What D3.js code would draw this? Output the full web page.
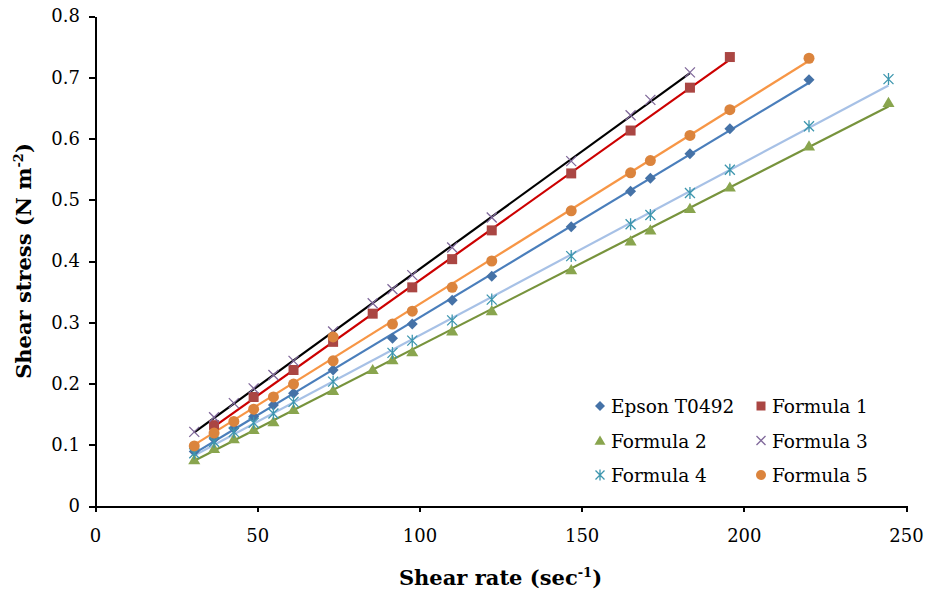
<html>
<head>
<script src="https://d3js.org/d3.v7.min.js"></script>
<style>
  body { margin: 0; background: #fff; }
  .axis path, .axis line { stroke: #000; stroke-width: 2px; shape-rendering: crispEdges; }
  .axis text { fill: #000; }
  .title { font-size: 21px; font-weight: bold; }
  .legend text { font-size: 18.5px; }
</style>
</head>
<body>
<svg id="chart" width="928" height="596"></svg>
<script>
// shear rate (sec-1) and shear stress (N m-2)
const epsonX = [30.6, 36.7, 42.8, 48.9, 55.0, 61.2, 73.4, 91.7, 97.8, 110.1, 122.3, 146.8, 165.1, 171.2, 183.4, 195.7, 220.1];
const epsonY = [0.089, 0.110, 0.127, 0.146, 0.165, 0.184, 0.222, 0.274, 0.297, 0.336, 0.375, 0.456, 0.514, 0.535, 0.575, 0.616, 0.696];

const f1X = [36.7, 48.9, 61.2, 73.4, 85.6, 97.8, 110.1, 122.3, 146.8, 165.1, 183.4, 195.7];
const f1Y = [0.132, 0.178, 0.222, 0.268, 0.314, 0.357, 0.403, 0.450, 0.543, 0.613, 0.683, 0.733];

const f2X = [30.6, 36.7, 42.8, 48.9, 55.0, 61.2, 73.4, 85.6, 91.7, 97.8, 110.1, 122.3, 146.8, 165.1, 171.2, 183.4, 195.7, 220.1, 244.6];
const f2Y = [0.076, 0.094, 0.110, 0.125, 0.138, 0.158, 0.189, 0.223, 0.239, 0.252, 0.286, 0.319, 0.386, 0.433, 0.451, 0.486, 0.521, 0.588, 0.659];

const f3X = [30.6, 36.7, 42.8, 48.9, 55.0, 61.2, 73.4, 85.6, 91.7, 97.8, 110.1, 122.3, 146.8, 165.1, 171.2, 183.4];
const f3Y = [0.121, 0.145, 0.168, 0.192, 0.214, 0.237, 0.285, 0.331, 0.354, 0.377, 0.422, 0.471, 0.563, 0.638, 0.663, 0.708];

const f4X = [30.6, 36.7, 42.8, 48.9, 55.0, 61.2, 73.4, 91.7, 97.8, 110.1, 122.3, 146.8, 165.1, 171.2, 183.4, 195.7, 220.1, 244.6];
const f4Y = [0.086, 0.105, 0.121, 0.136, 0.151, 0.170, 0.203, 0.250, 0.270, 0.303, 0.337, 0.408, 0.460, 0.475, 0.511, 0.549, 0.620, 0.697];

const f5X = [30.6, 36.7, 42.8, 48.9, 55.0, 61.2, 73.4, 73.4, 91.7, 97.8, 110.1, 122.3, 146.8, 165.1, 171.2, 183.4, 195.7, 220.1];
const f5Y = [0.098, 0.119, 0.138, 0.158, 0.178, 0.199, 0.237, 0.276, 0.297, 0.318, 0.357, 0.400, 0.482, 0.544, 0.564, 0.605, 0.647, 0.731];

const seriesNames = ["Epson T0492", "Formula 1", "Formula 2", "Formula 3", "Formula 4", "Formula 5"];
const xTicks = [0, 50, 100, 150, 200, 250];
const yTicks = [0, 0.1, 0.2, 0.3, 0.4, 0.5, 0.6, 0.7, 0.8];

const serif = "'DejaVu Serif', serif";
const margin = {left: 95, right: 22, top: 16, bottom: 90};
const width = 928, height = 596;

const svg = d3.select("#chart").style("font-family", serif);

const x = d3.scaleLinear().domain([0, 250]).range([margin.left, width - margin.right]);
const y = d3.scaleLinear().domain([0, 0.8]).range([height - margin.bottom, margin.top]);

// marker shapes, r = half size in px
const shapes = {
  diamond: r => `M0,${-r}L${r},0L0,${r}L${-r},0Z`,
  square: r => `M${-r},${-r}H${r}V${r}H${-r}Z`,
  triangle: r => `M0,${-r}L${r * 1.1},${r * 0.85}L${-r * 1.1},${r * 0.85}Z`,
  circle: r => `M${r},0A${r},${r} 0 1,1 ${-r},0A${r},${r} 0 1,1 ${r},0Z`,
  cross: r => `M${-r},${-r}L${r},${r}M${-r},${r}L${r},${-r}`,
  star: r => `M${-r},${-r}L${r},${r}M${-r},${r}L${r},${-r}M0,${-r * 1.2}L0,${r * 1.2}`
};

const series = [
  {name: seriesNames[0], xs: epsonX, ys: epsonY, shape: "diamond", r: 5.5, fill: "#4572A7", stroke: null, line: "#4a7ebb"},
  {name: seriesNames[1], xs: f1X, ys: f1Y, shape: "square", r: 5, fill: "#AA4643", stroke: null, line: "#cc0000"},
  {name: seriesNames[2], xs: f2X, ys: f2Y, shape: "triangle", r: 5.5, fill: "#89A54E", stroke: null, line: "#77933c"},
  {name: seriesNames[3], xs: f3X, ys: f3Y, shape: "cross", r: 5, fill: "none", stroke: "#80699B", line: "#000000"},
  {name: seriesNames[4], xs: f4X, ys: f4Y, shape: "star", r: 5, fill: "none", stroke: "#3D96AE", line: "#a7c1e6"},
  {name: seriesNames[5], xs: f5X, ys: f5Y, shape: "circle", r: 5.5, fill: "#DB843D", stroke: null, line: "#f79646"}
];

// least squares fit for the trend lines
function fit(xs, ys) {
  const mx = d3.mean(xs), my = d3.mean(ys);
  let sxy = 0, sxx = 0;
  xs.forEach((v, i) => { sxy += (v - mx) * (ys[i] - my); sxx += (v - mx) * (v - mx); });
  const b = sxy / sxx;
  return {b: b, a: my - b * mx};
}

// axes
const gx = svg.append("g")
  .attr("class", "x axis")
  .attr("transform", `translate(0,${y(0)})`)
  .call(d3.axisBottom(x).tickValues(xTicks).tickSize(6).tickPadding(17).tickSizeOuter(0).tickFormat(d3.format("d")));

const gy = svg.append("g")
  .attr("class", "y axis")
  .attr("transform", `translate(${x(0)},0)`)
  .call(d3.axisLeft(y).tickValues(yTicks).tickSize(6).tickPadding(9).tickSizeOuter(0).tickFormat(d => d === 0 ? "0" : d3.format(".1f")(d)));

gx.attr("font-family", serif).attr("font-size", 18);
gy.attr("font-family", serif).attr("font-size", 18);

// trend lines
series.forEach(s => {
  const f = fit(s.xs, s.ys);
  const x0 = d3.min(s.xs), x1 = d3.max(s.xs);
  svg.append("line")
    .attr("x1", x(x0)).attr("y1", y(f.a + f.b * x0))
    .attr("x2", x(x1)).attr("y2", y(f.a + f.b * x1))
    .attr("stroke", s.line)
    .attr("stroke-width", 2.2);
});

// markers
series.forEach(s => {
  svg.append("g").selectAll("path")
    .data(s.xs.map((v, i) => [v, s.ys[i]]))
    .join("path")
    .attr("transform", d => `translate(${x(d[0])},${y(d[1])})`)
    .attr("d", shapes[s.shape](s.r))
    .attr("fill", s.fill)
    .attr("stroke", s.stroke || "none")
    .attr("stroke-width", 1.3);
});

// axis titles
const xt = svg.append("text").attr("class", "title")
  .attr("font-family", serif)
  .attr("x", (x(0) + x(250)) / 2).attr("y", 585)
  .attr("text-anchor", "middle");
xt.append("tspan").text("Shear rate (sec");
xt.append("tspan").attr("font-size", "13px").attr("dy", -8).text("-1");
xt.append("tspan").attr("dy", 8).text(")");

const yt = svg.append("text").attr("class", "title")
  .attr("font-family", serif)
  .attr("transform", `translate(31,${(y(0) + y(0.8)) / 2}) rotate(-90)`)
  .attr("text-anchor", "middle");
yt.append("tspan").text("Shear stress (N m");
yt.append("tspan").attr("font-size", "13px").attr("dy", -8).text("-2");
yt.append("tspan").attr("dy", 8).text(")");

// legend
const legend = svg.append("g").attr("class", "legend").attr("font-family", serif);
series.forEach((s, i) => {
  const col = i % 2, row = Math.floor(i / 2);
  const lx = 600 + col * 161, ly = 406 + row * 34.5;
  legend.append("path")
    .attr("transform", `translate(${lx},${ly})`)
    .attr("d", shapes[s.shape](s.r - 0.5))
    .attr("fill", s.fill)
    .attr("stroke", s.stroke || "none")
    .attr("stroke-width", 1.3);
  legend.append("text")
    .attr("x", lx + 11).attr("y", ly + 7)
    .text(s.name);
});
</script>
</body>
</html>
